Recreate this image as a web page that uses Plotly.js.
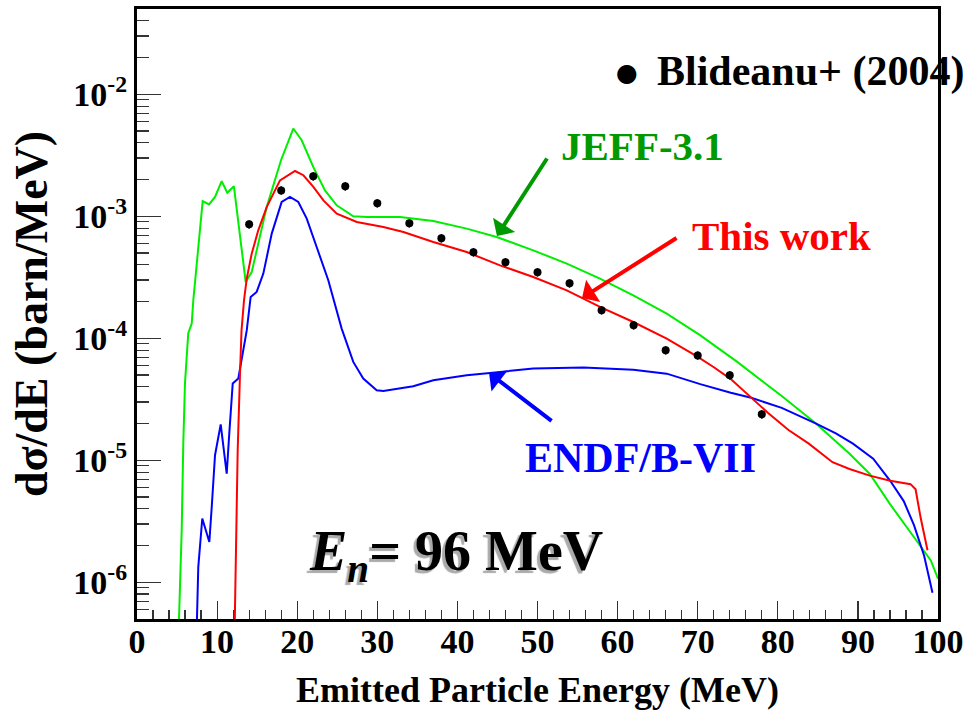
<!DOCTYPE html>
<html>
<head>
<meta charset="utf-8">
<script src="https://cdn.plot.ly/plotly-3.0.1.min.js"></script>
<style>html,body{margin:0;padding:0;background:#fff;}#chart{width:968px;height:710px;}</style>
</head>
<body>
<div id="chart"></div>
<script>
// ---- Data ----
const expE = [14, 18, 22, 26, 30, 34, 38, 42, 46, 50, 54, 58, 62, 66, 70, 74, 78];
const expXS = [8.59e-4, 1.63e-3, 2.13e-3, 1.76e-3, 1.28e-3, 8.77e-4, 6.61e-4, 5.07e-4, 4.20e-4, 3.48e-4, 2.82e-4, 1.70e-4, 1.28e-4, 7.98e-5, 7.24e-5, 4.98e-5, 2.38e-5];
const expErrPct = 8;

const jeffE = [5.2, 5.58, 5.78, 5.99, 6.4, 6.83, 7.03, 8.2, 8.99, 9.74, 10.57, 11.27, 12.1, 13.57, 14.32, 16.19, 17.98, 19.51, 20.56, 22.0, 23.47, 24.93, 27.0, 28.68, 32.83, 36.99, 41.16, 44.9, 49.47, 53.65, 57.8, 61.96, 66.13, 70.29, 74.98, 80.49, 84.72, 88.96, 91.49, 94.03, 97.42, 99.1, 100];
const jeffXS = [4.0e-7, 2.67e-6, 1.38e-5, 4.28e-5, 1.10e-4, 1.32e-4, 2.05e-4, 1.33e-3, 1.25e-3, 1.44e-3, 1.94e-3, 1.56e-3, 1.76e-3, 2.89e-4, 3.49e-4, 1.19e-3, 2.88e-3, 5.24e-3, 4.20e-3, 2.54e-3, 1.63e-3, 1.23e-3, 1.00e-3, 9.86e-4, 9.86e-4, 9.14e-4, 7.92e-4, 6.76e-4, 5.26e-4, 4.09e-4, 3.08e-4, 2.25e-4, 1.59e-4, 1.06e-4, 6.37e-5, 3.36e-5, 2.01e-5, 1.13e-5, 7.73e-6, 4.35e-6, 2.15e-6, 1.51e-6, 1.07e-6];

const thisE = [12.2, 12.45, 12.57, 12.86, 13.05, 13.36, 13.7, 14.32, 15.14, 16.19, 17.85, 19.73, 20.77, 22.02, 23.27, 24.94, 27.44, 30.76, 33.26, 36.99, 41.16, 45.32, 49.47, 53.65, 57.8, 61.96, 66.13, 69.91, 72.02, 74.13, 76.68, 78.79, 81.34, 83.87, 86.83, 88.95, 91.48, 94.03, 96.57, 97.2, 97.84, 98.69];
const thisXS = [4.5e-7, 4.17e-6, 1.21e-5, 5.14e-5, 1.16e-4, 2.05e-4, 3.08e-4, 4.94e-4, 7.67e-4, 1.19e-3, 1.97e-3, 2.35e-3, 2.17e-3, 1.74e-3, 1.35e-3, 1.05e-3, 8.97e-4, 8.17e-4, 7.43e-4, 6.15e-4, 5.09e-4, 3.96e-4, 3.18e-4, 2.47e-4, 1.81e-4, 1.36e-4, 9.95e-5, 7.11e-5, 5.79e-5, 4.63e-5, 3.25e-5, 2.44e-5, 1.77e-5, 1.37e-5, 9.64e-6, 8.49e-6, 7.48e-6, 6.79e-6, 6.37e-6, 5.78e-6, 3.36e-6, 1.83e-6];

const endfE = [7.4, 7.65, 8.15, 9.03, 9.33, 9.74, 10.45, 11.2, 11.52, 11.95, 12.65, 13.48, 13.7, 14.19, 14.94, 15.77, 16.82, 18.06, 19.1, 20.14, 21.19, 22.43, 23.88, 25.55, 27.0, 28.25, 29.92, 30.75, 32.42, 34.49, 36.99, 41.16, 44.07, 49.47, 55.72, 61.96, 66.13, 70.32, 74.13, 76.68, 80.49, 84.72, 87.25, 89.38, 91.91, 94.03, 95.72, 96.99, 98.26, 99.31];
const endfXS = [3.0e-7, 1.33e-6, 3.33e-6, 2.14e-6, 4.14e-6, 1.10e-5, 1.97e-5, 7.78e-6, 1.66e-5, 4.26e-5, 4.68e-5, 9.64e-5, 1.16e-4, 2.18e-4, 2.40e-4, 3.39e-4, 7.21e-4, 1.31e-3, 1.44e-3, 1.31e-3, 9.57e-4, 5.60e-4, 2.99e-4, 1.20e-4, 6.40e-5, 4.68e-5, 3.75e-5, 3.70e-5, 3.87e-5, 4.05e-5, 4.53e-5, 4.98e-5, 5.20e-5, 5.65e-5, 5.75e-5, 5.53e-5, 5.13e-5, 4.21e-5, 3.58e-5, 3.25e-5, 2.69e-5, 2.01e-5, 1.66e-5, 1.37e-5, 1.03e-5, 6.79e-6, 4.63e-6, 2.95e-6, 1.66e-6, 8.22e-7];

const yTickVals = [1e-6, 1e-5, 1e-4, 1e-3, 1e-2];
const yTickText = ['10<sup>-6</sup>', '10<sup>-5</sup>', '10<sup>-4</sup>', '10<sup>-3</sup>', '10<sup>-2</sup>'];
const labels = {
  exp: 'Blideanu+ (2004)',
  jeff: 'JEFF-3.1',
  thisw: 'This work',
  endf: 'ENDF/B-VII',
  en: '<i>E</i><sub><i>n</i></sub>= 96 MeV',
  xtitle: 'Emitted Particle Energy (MeV)',
  ytitle: 'd\u03c3/dE (barn/MeV)'
};

// minor log ticks (2..9 x each decade)
const yMinor = [];
for (let p = -7; p <= -2; p++) for (let m = 2; m <= 9; m++) yMinor.push(m * Math.pow(10, p));

const SERIF = 'Liberation Serif, Times New Roman, serif';

const traces = [
  {x: jeffE, y: jeffXS, mode: 'lines', line: {color: '#00ee00', width: 2}, name: labels.jeff, showlegend: false},
  {x: endfE, y: endfXS, mode: 'lines', line: {color: '#0000ff', width: 2}, name: labels.endf, showlegend: false},
  {x: thisE, y: thisXS, mode: 'lines', line: {color: '#ff0000', width: 2}, name: labels.thisw, showlegend: false},
  {x: expE, y: expXS, mode: 'markers', marker: {color: '#000', size: 8, symbol: 'circle'},
   error_y: {type: 'percent', value: expErrPct, color: '#000', thickness: 1.5, width: 0},
   name: labels.exp, showlegend: false}
];

const bigFont = (c, s) => ({family: SERIF, size: s, color: c, weight: 'bold'});

const layout = {
  width: 968, height: 710,
  margin: {l: 137, r: 30, t: 9, b: 91},
  paper_bgcolor: '#fff', plot_bgcolor: '#fff',
  showlegend: false,
  xaxis: {
    range: [0, 100], dtick: 10, tick0: 0,
    ticks: 'inside', ticklen: 18, tickwidth: 1.2, tickcolor: '#333',
    minor: {dtick: 2, ticks: 'inside', ticklen: 9, tickwidth: 1.2, tickcolor: '#333', showgrid: false},
    showgrid: false, zeroline: false,
    showline: true, linewidth: 3, linecolor: '#000', mirror: true,
    tickfont: bigFont('#000', 34),
    ticklabelstandoff: -10,
    title: {text: labels.xtitle, font: bigFont('#000', 36), standoff: 20},
    automargin: false
  },
  yaxis: {
    type: 'log', range: [Math.log10(5e-7), Math.log10(5e-2)],
    tickmode: 'array', tickvals: yTickVals, ticktext: yTickText,
    ticks: 'inside', ticklen: 24, tickwidth: 1.2, tickcolor: '#333',
    minor: {tickmode: 'array', tickvals: yMinor, ticks: 'inside', ticklen: 12, tickwidth: 1.2, tickcolor: '#333', showgrid: false},
    showgrid: false, zeroline: false,
    showline: true, linewidth: 3, linecolor: '#000', mirror: true,
    tickfont: bigFont('#000', 34),
    title: {text: labels.ytitle, font: bigFont('#000', 46), standoff: 12},
    automargin: false
  },
  annotations: [
    // legend-like entry
    {xref: 'paper', yref: 'paper', x: 0.6117, y: 0.8967, text: '\u25CF', showarrow: false,
     font: {family: 'DejaVu Sans', size: 25, color: '#000'}, xanchor: 'center', yanchor: 'middle'},
    {xref: 'paper', yref: 'paper', x: 0.6467, y: 0.897, text: labels.exp, showarrow: false,
     font: bigFont('#000', 42), xanchor: 'left', yanchor: 'middle'},
    // labels
    {xref: 'paper', yref: 'paper', x: 0.6305, y: 0.7754, text: labels.jeff, showarrow: false,
     font: bigFont('#009900', 41), xanchor: 'center', yanchor: 'middle'},
    {xref: 'paper', yref: 'paper', x: 0.804, y: 0.6279, text: labels.thisw, showarrow: false,
     font: bigFont('#ff0000', 41), xanchor: 'center', yanchor: 'middle'},
    {xref: 'paper', yref: 'paper', x: 0.628, y: 0.2639, text: labels.endf, showarrow: false,
     font: bigFont('#0000ff', 42), xanchor: 'center', yanchor: 'middle'},
    // arrows
    {xref: 'paper', yref: 'paper', x: 0.4494, y: 0.6279, ax: 51, ay: -79, text: '', showarrow: true,
     arrowhead: 1, arrowsize: 1.1, arrowwidth: 4, arrowcolor: '#009900'},
    {xref: 'paper', yref: 'paper', x: 0.5556, y: 0.5262, ax: 96, ay: -61, text: '', showarrow: true,
     arrowhead: 1, arrowsize: 1.1, arrowwidth: 4, arrowcolor: '#ff0000'},
    {xref: 'paper', yref: 'paper', x: 0.4395, y: 0.4033, ax: 64, ay: 49, text: '', showarrow: true,
     arrowhead: 1, arrowsize: 1.1, arrowwidth: 4, arrowcolor: '#0000ff'},
    // E_n label with drop shadow
    {xref: 'paper', yref: 'paper', x: 0.2122, y: 0.105, text: labels.en, showarrow: false,
     font: Object.assign(bigFont('#000', 56), {shadow: '-3px 3px 1px #aaaaaa'}), xanchor: 'left', yanchor: 'middle'}
  ]
};

Plotly.newPlot('chart', traces, layout, {displayModeBar: false, staticPlot: true});
</script>
</body>
</html>
